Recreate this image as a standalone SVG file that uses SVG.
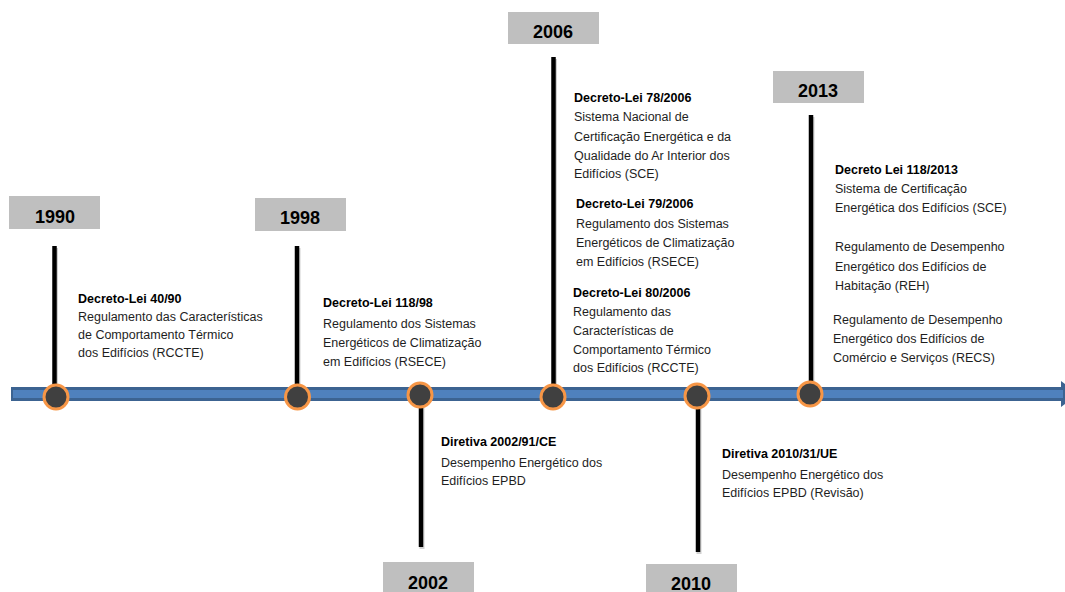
<svg xmlns="http://www.w3.org/2000/svg" width="1065" height="592" viewBox="0 0 1065 592">
  <style>
    .yearbox { fill: #bfbfbf; }
    .year { font-family: "Liberation Sans", Arial, sans-serif; font-weight: bold; font-size: 18px; fill: #000; text-anchor: middle; }
    .stem { stroke: #000; stroke-width: 4.5; }
    .stem-shadow { stroke: #000; stroke-opacity: 0.18; stroke-width: 5; }
    .dot { fill: #404040; stroke: #f79646; stroke-width: 3; }
    .txt { font-family: "Liberation Sans", Arial, sans-serif; font-size: 12.5px; fill: #1e1e1e; }
    .txt .h { font-weight: bold; fill: #000; }
  </style>

  <!-- timeline axis and year stems -->
  <g id="connectors">
    <path d="M11 387 H1061 V381 L1078 394 L1061 407 V401 H11 Z" fill="#3c6391"/>
    <rect x="13" y="390" width="1050" height="8" fill="#4f81bd"/>
    <line class="stem-shadow" x1="55.5" y1="248" x2="55.5" y2="397"/>
    <line class="stem" x1="54.5" y1="246" x2="54.5" y2="397"/>
    <line class="stem-shadow" x1="298" y1="248" x2="298" y2="397"/>
    <line class="stem" x1="297" y1="246" x2="297" y2="397"/>
    <line class="stem-shadow" x1="422" y1="396" x2="422" y2="549"/>
    <line class="stem" x1="421" y1="394" x2="421" y2="547"/>
    <line class="stem-shadow" x1="554.5" y1="59" x2="554.5" y2="397"/>
    <line class="stem" x1="553.5" y1="57" x2="553.5" y2="397"/>
    <line class="stem-shadow" x1="699" y1="398" x2="699" y2="554"/>
    <line class="stem" x1="698" y1="396" x2="698" y2="552"/>
    <line class="stem-shadow" x1="812" y1="117" x2="812" y2="394"/>
    <line class="stem" x1="811" y1="115" x2="811" y2="394"/>
  </g>

  <g id="node-1990">
    <rect class="yearbox" x="9" y="196" width="91" height="33"/>
    <text class="year" x="55" y="223">1990</text>
    <circle class="dot" cx="56" cy="397" r="12"/>
    <text class="txt">
      <tspan class="h" x="78" y="303">Decreto-Lei 40/90</tspan>
      <tspan x="78" y="321">Regulamento das Características</tspan>
      <tspan x="78" y="339">de Comportamento Térmico</tspan>
      <tspan x="78" y="357">dos Edifícios (RCCTE)</tspan>
    </text>
  </g>

  <g id="node-1998">
    <rect class="yearbox" x="255" y="198" width="91" height="33"/>
    <text class="year" x="300" y="224">1998</text>
    <circle class="dot" cx="297.5" cy="397" r="12"/>
    <text class="txt">
      <tspan class="h" x="323" y="307">Decreto-Lei 118/98</tspan>
      <tspan x="323" y="328">Regulamento dos Sistemas</tspan>
      <tspan x="323" y="347">Energéticos de Climatização</tspan>
      <tspan x="323" y="366">em Edifícios (RSECE)</tspan>
    </text>
  </g>

  <g id="node-2002">
    <rect class="yearbox" x="383" y="562" width="91" height="33"/>
    <text class="year" x="428" y="589">2002</text>
    <circle class="dot" cx="420" cy="395" r="12"/>
    <text class="txt">
      <tspan class="h" x="441" y="446">Diretiva 2002/91/CE</tspan>
      <tspan x="441" y="467">Desempenho Energético dos</tspan>
      <tspan x="441" y="485">Edifícios EPBD</tspan>
    </text>
  </g>

  <g id="node-2006">
    <rect class="yearbox" x="508" y="12" width="91" height="32"/>
    <text class="year" x="553" y="38">2006</text>
    <circle class="dot" cx="553" cy="397" r="12"/>
    <text class="txt">
      <tspan class="h" x="574" y="102">Decreto-Lei 78/2006</tspan>
      <tspan x="574" y="121">Sistema Nacional de</tspan>
      <tspan x="574" y="141">Certificação Energética e da</tspan>
      <tspan x="574" y="160">Qualidade do Ar  Interior dos</tspan>
      <tspan x="574" y="178">Edifícios (SCE)</tspan>
      <tspan class="h" x="576" y="208">Decreto-Lei 79/2006</tspan>
      <tspan x="576" y="228">Regulamento dos Sistemas</tspan>
      <tspan x="576" y="247">Energéticos de Climatização</tspan>
      <tspan x="576" y="266">em Edifícios (RSECE)</tspan>
      <tspan class="h" x="573" y="297">Decreto-Lei 80/2006</tspan>
      <tspan x="573" y="316">Regulamento das</tspan>
      <tspan x="573" y="335">Características de</tspan>
      <tspan x="573" y="354">Comportamento Térmico</tspan>
      <tspan x="573" y="372">dos Edifícios (RCCTE)</tspan>
    </text>
  </g>

  <g id="node-2010">
    <rect class="yearbox" x="646" y="564" width="91" height="33"/>
    <text class="year" x="691" y="590">2010</text>
    <circle class="dot" cx="697" cy="396" r="12"/>
    <text class="txt">
      <tspan class="h" x="722" y="458">Diretiva 2010/31/UE</tspan>
      <tspan x="722" y="479">Desempenho Energético dos</tspan>
      <tspan x="722" y="497">Edifícios EPBD (Revisão)</tspan>
    </text>
  </g>

  <g id="node-2013">
    <rect class="yearbox" x="773" y="71" width="91" height="32"/>
    <text class="year" x="818" y="97">2013</text>
    <circle class="dot" cx="810" cy="394" r="12"/>
    <text class="txt">
      <tspan class="h" x="835" y="174">Decreto Lei 118/2013</tspan>
      <tspan x="835" y="193">Sistema de Certificação</tspan>
      <tspan x="835" y="212">Energética dos Edifícios (SCE)</tspan>
      <tspan x="835" y="251">Regulamento de Desempenho</tspan>
      <tspan x="835" y="271">Energético dos Edifícios de</tspan>
      <tspan x="835" y="290">Habitação (REH)</tspan>
      <tspan x="833" y="324">Regulamento de Desempenho</tspan>
      <tspan x="833" y="343">Energético dos Edifícios de</tspan>
      <tspan x="833" y="362">Comércio e Serviços (RECS)</tspan>
    </text>
  </g>
</svg>
